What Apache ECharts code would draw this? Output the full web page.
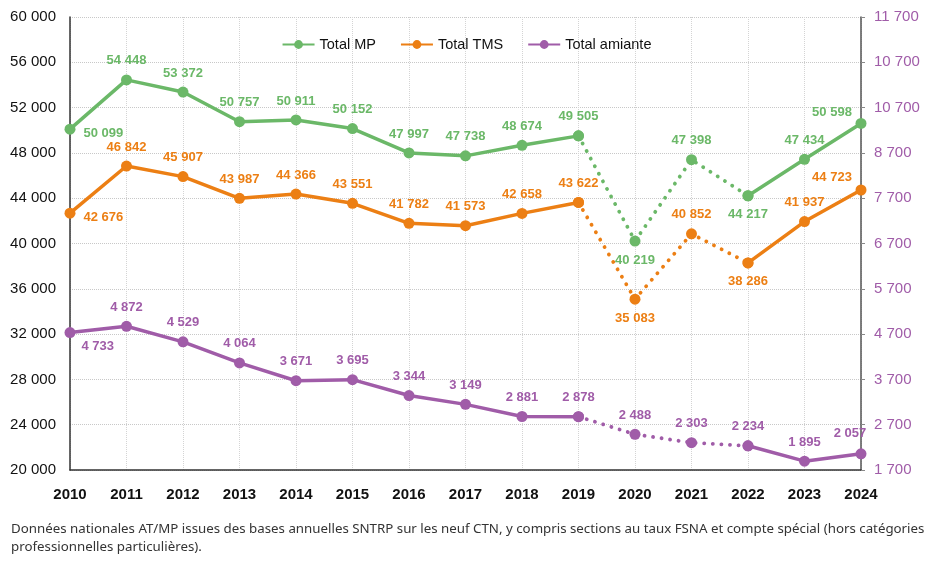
<!DOCTYPE html>
<html>
<head>
<meta charset="utf-8">
<script src="https://cdn.jsdelivr.net/npm/echarts@6/dist/echarts.min.js"></script>
<style>
  html, body { margin: 0; padding: 0; background: #fff; }
  #chart { width: 933px; height: 562px; }
</style>
</head>
<body>
<div id="chart"></div>
<script>
// données
const years = ['2010', '2011', '2012', '2013', '2014', '2015', '2016', '2017', '2018', '2019', '2020', '2021', '2022', '2023', '2024']
const totalMP = [50099, 54448, 53372, 50757, 50911, 50152, 47997, 47738, 48674, 49505, 40219, 47398, 44217, 47434, 50598]
const totalTMS = [42676, 46842, 45907, 43987, 44366, 43551, 41782, 41573, 42658, 43622, 35083, 40852, 38286, 41937, 44723]
const totalAmiante = [4733, 4872, 4529, 4064, 3671, 3695, 3344, 3149, 2881, 2878, 2488, 2303, 2234, 1895, 2057]
const rightTickLabels = ['1 700', '2 700', '3 700', '4 700', '5 700', '6 700', '7 700', '8 700', '10 700', '10 700', '11 700']
// années en pointillé (2019 -> 2022)
const dottedFrom = 9
const dottedTo = 12

const GREEN = '#6bb868'
const ORANGE = '#ec7f14'
const PURPLE = '#a05ca8'
const FONT = "'Liberation Sans', Arial, sans-serif"

function fmt(v) {
  return String(v).replace(/\B(?=(\d{3})+(?!\d))/g, ' ')
}

// placement des étiquettes
function labelFor(idx, below, color, first, last) {
  const l = { show: true, color: color, fontFamily: FONT, fontWeight: 'bold', fontSize: 13, formatter: p => fmt(p.value), distance: 7 }
  if (idx === 0) {
    l.position = 'right'
    l.distance = 8
    l.offset = first
  } else if (idx === years.length - 1) {
    l.position = 'top'
    l.offset = last
  } else if (below.indexOf(idx) >= 0) {
    l.position = 'bottom'
  } else {
    l.position = 'top'
  }
  return l
}

function buildSeries(name, values, color, axis, below, first, last) {
  const solid = values.map((v, i) => {
    if (i > dottedFrom && i < dottedTo) return null
    return { value: v, label: labelFor(i, below, color, first, last) }
  })
  const dotted = values.map((v, i) => {
    if (i < dottedFrom || i > dottedTo) return null
    const inner = i > dottedFrom && i < dottedTo
    return { value: v, label: inner ? labelFor(i, below, color, first, last) : { show: false } }
  })
  const common = {
    name: name,
    type: 'line',
    yAxisIndex: axis,
    symbol: 'circle',
    symbolSize: 11,
    itemStyle: { color: color },
    connectNulls: false,
    animation: false
  }
  return [
    Object.assign({}, common, { data: solid, lineStyle: { color: color, width: 3.5 }, z: 3 }),
    Object.assign({}, common, { data: dotted, lineStyle: { color: color, width: 3.8, type: [0.1, 8.5], cap: 'round' }, z: 2 })
  ]
}

const chart = echarts.init(document.getElementById('chart'))
chart.setOption({
  backgroundColor: '#fff',
  title: {
    text: 'Données nationales AT/MP issues des bases annuelles SNTRP sur les neuf CTN, y compris sections au taux FSNA et compte spécial (hors catégories\nprofessionnelles particulières).',
    left: 6,
    top: 515,
    textStyle: { fontFamily: "'Noto Sans', sans-serif", fontSize: 13.3, fontWeight: 'normal', color: '#333', lineHeight: 18 }
  },
  legend: {
    top: 32,
    left: 'center',
    data: ['Total MP', 'Total TMS', 'Total amiante'],
    itemWidth: 32,
    itemHeight: 11,
    itemGap: 24,
    textStyle: { fontFamily: FONT, fontSize: 14.5, color: '#111' }
  },
  grid: { left: 70, right: 72, top: 17, bottom: 92 },
  xAxis: {
    type: 'category',
    data: years,
    boundaryGap: false,
    axisLine: { lineStyle: { color: '#333', width: 1.5 } },
    axisTick: { show: false },
    axisLabel: { color: '#111', fontFamily: FONT, fontWeight: 'bold', fontSize: 15, margin: 17 },
    splitLine: { show: true, lineStyle: { color: '#d4d4d4', type: 'dotted' } }
  },
  yAxis: [
    {
      type: 'value',
      min: 20000,
      max: 60000,
      interval: 4000,
      axisLine: { show: true, lineStyle: { color: '#333', width: 1.5 } },
      axisTick: { show: false },
      axisLabel: { color: '#111', fontFamily: FONT, fontSize: 15, margin: 14, formatter: v => fmt(v) },
      splitLine: { show: true, lineStyle: { color: '#c8c8c8', type: 'dotted' } }
    },
    {
      type: 'value',
      position: 'right',
      min: 1700,
      max: 11700,
      interval: 1000,
      axisLine: { show: true, lineStyle: { color: '#555', width: 1.5 } },
      axisTick: { show: true, length: 4, lineStyle: { color: '#888' } },
      axisLabel: { color: PURPLE, fontFamily: FONT, fontSize: 15, margin: 13, formatter: v => rightTickLabels[Math.round((v - 1700) / 1000)] },
      splitLine: { show: false }
    }
  ],
  series: [].concat(
    buildSeries('Total MP', totalMP, GREEN, 0, [10, 12], [0, 4], [-29, 8]),
    buildSeries('Total TMS', totalTMS, ORANGE, 0, [10, 12], [0, 4], [-29, 6]),
    buildSeries('Total amiante', totalAmiante, PURPLE, 1, [], [-2, 14], [-11, -1])
  )
})
</script>
</body>
</html>
